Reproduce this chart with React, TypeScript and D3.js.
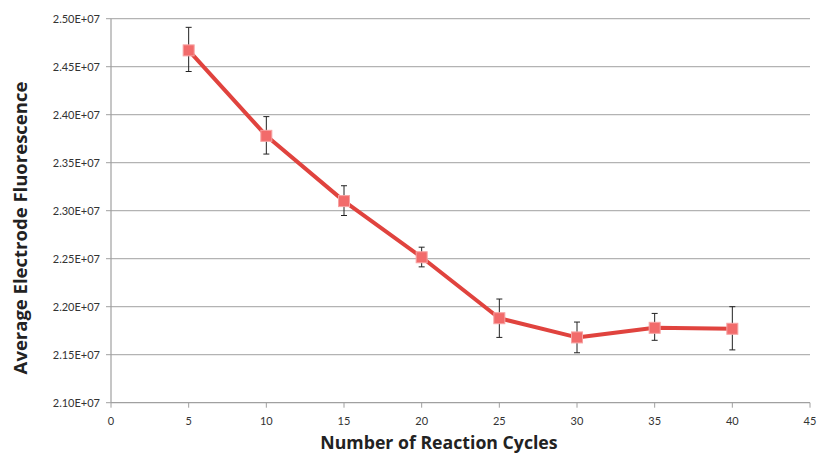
import React from 'react';
import * as d3 from 'd3';

const cycles = [5, 10, 15, 20, 25, 30, 35, 40];
const fluorescence = [2.467e7, 2.378e7, 2.310e7, 2.2515e7, 2.188e7, 2.168e7, 2.178e7, 2.177e7];
const errTop = [2.491e7, 2.398e7, 2.326e7, 2.262e7, 2.208e7, 2.184e7, 2.193e7, 2.200e7];
const errBottom = [2.445e7, 2.359e7, 2.295e7, 2.2415e7, 2.168e7, 2.152e7, 2.165e7, 2.155e7];
const xTicks = [0, 5, 10, 15, 20, 25, 30, 35, 40, 45];
const yTicks = [2.10e7, 2.15e7, 2.20e7, 2.25e7, 2.30e7, 2.35e7, 2.40e7, 2.45e7, 2.50e7];

const W = 817;
const H = 455;
const margin = { left: 111, right: 7, top: 18.7, bottom: 52.3 };

const fmt = (v: number) => (v / 1e7).toFixed(2) + 'E+07';

const App = () => {
  const x = d3.scaleLinear().domain([0, 45]).range([margin.left, W - margin.right]);
  const y = d3.scaleLinear().domain([2.10e7, 2.50e7]).range([H - margin.bottom, margin.top]);
  const line = d3
    .line<number>()
    .x((d, i) => x(cycles[i]))
    .y((d) => y(d));
  const font = 'Lato, "Open Sans", sans-serif';
  const titleFont = '"Open Sans", Lato, sans-serif';
  const y0 = y(2.10e7);

  return (
    <svg width={W} height={H} style={{ position: 'absolute', left: 0, top: 0, background: '#fff' }}>
      {yTicks.map((t) => (
        <g key={t}>
          {t > 2.10e7 && (
            <line x1={x(0)} x2={x(45)} y1={y(t)} y2={y(t)} stroke="#b3b3b3" strokeWidth={1.2} />
          )}
          <line x1={x(0) - 5} x2={x(0)} y1={y(t)} y2={y(t)} stroke="#a0a0a0" />
          <text x={x(0) - 11} y={y(t)} dy="0.35em" textAnchor="end" fontSize={11} fill="#333" fontFamily={font}>
            {fmt(t)}
          </text>
        </g>
      ))}
      <line x1={x(0)} x2={x(0)} y1={y(2.50e7)} y2={y0} stroke="#a0a0a0" strokeWidth={1.2} />
      <line x1={x(0)} x2={x(45)} y1={y0} y2={y0} stroke="#a0a0a0" strokeWidth={1.2} />
      {xTicks.map((t) => (
        <g key={t}>
          <line x1={x(t)} x2={x(t)} y1={y0} y2={y0 + 5} stroke="#a0a0a0" />
          <text x={x(t)} y={y0 + 18} dy="0.35em" textAnchor="middle" fontSize={11} fill="#333" fontFamily={font}>
            {t}
          </text>
        </g>
      ))}
      <text x={439} y={449} textAnchor="middle" fontSize={17.7} fontWeight="bold" fill="#222" fontFamily={titleFont}>
        Number of Reaction Cycles
      </text>
      <text
        transform="translate(27,228) rotate(-90)"
        textAnchor="middle"
        fontSize={18.5}
        fontWeight="bold"
        fill="#222"
        fontFamily={titleFont}
      >
        Average Electrode Fluorescence
      </text>
      {cycles.map((c, i) => (
        <g key={'e' + c} stroke="#222" strokeWidth={1}>
          <line x1={x(c)} x2={x(c)} y1={y(errTop[i])} y2={y(errBottom[i])} />
          <line x1={x(c) - 3} x2={x(c) + 3} y1={y(errTop[i])} y2={y(errTop[i])} />
          <line x1={x(c) - 3} x2={x(c) + 3} y1={y(errBottom[i])} y2={y(errBottom[i])} />
        </g>
      ))}
      <path d={line(fluorescence) || ''} fill="none" stroke="#e0433e" strokeWidth={4} strokeLinejoin="round" />
      {cycles.map((c, i) => (
        <rect
          key={'m' + c}
          x={x(c) - 5.5}
          y={y(fluorescence[i]) - 5.5}
          width={11}
          height={11}
          fill="#f26b6b"
          stroke="#f7a3a3"
          strokeWidth={1}
        />
      ))}
    </svg>
  );
};

export default App;
